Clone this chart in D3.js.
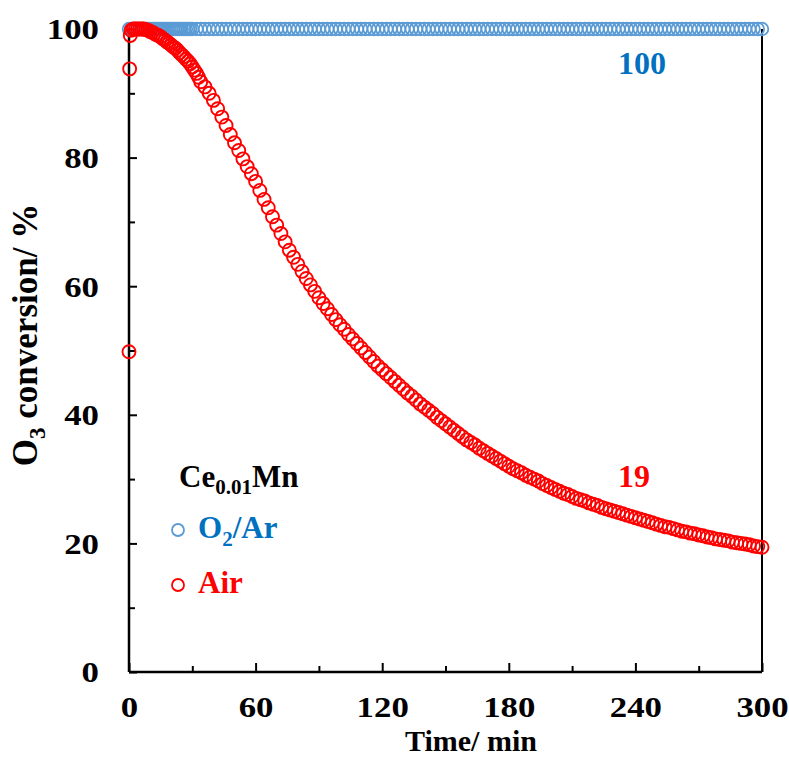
<!DOCTYPE html>
<html><head><meta charset="utf-8">
<script src="https://cdn.jsdelivr.net/npm/d3@7"></script>
<style>body{margin:0;background:#fff}svg{display:block}</style>
</head><body><svg id="c" width="789" height="758"></svg>
<script>
// O2/Ar series (time in min, conversion %)
const blueTime = [0,1,2,3,4,5,6,7,8,9,10,11,12,13,14,15,16,17,18,19,20,21,22,23,24,25,26,27,28,29,30,
32,34,36,38,40,42,44,46,48,50,52,54,56,58,60,62,64,66,68,70,72,74,76,78,80,82,84,86,88,90,92,94,96,98,
100,102,104,106,108,110,112,114,116,118,120,122,124,126,128,130,132,134,136,138,140,142,144,146,148,
150,152,154,156,158,160,162,164,166,168,170,172,174,176,178,180,182,184,186,188,190,192,194,196,198,
200,202,204,206,208,210,212,214,216,218,220,222,224,226,228,230,232,234,236,238,240,242,244,246,248,
250,252,254,256,258,260,262,264,266,268,270,272,274,276,278,280,282,284,286,288,290,292,294,296,298,300];
const blueConv = [100,100,100,100,100,100,100,100,100,100,100,100,100,100,100,100,100,100,100,100,100,100,100,100,100,100,100,100,100,100,100,
100,100,100,100,100,100,100,100,100,100,100,100,100,100,100,100,100,100,100,100,100,100,100,100,100,100,100,100,100,100,100,100,100,100,
100,100,100,100,100,100,100,100,100,100,100,100,100,100,100,100,100,100,100,100,100,100,100,100,100,
100,100,100,100,100,100,100,100,100,100,100,100,100,100,100,100,100,100,100,100,100,100,100,100,100,
100,100,100,100,100,100,100,100,100,100,100,100,100,100,100,100,100,100,100,100,100,100,100,100,100,
100,100,100,100,100,100,100,100,100,100,100,100,100,100,100,100,100,100,100,100,100,100,100,100,100,100];

// Air series
const redTime = [0,0.3,0.6,1,2,3,4,5,6,7,8,9,10,11,12,13,14,15,16,17,18,19,20,21,22,23,24,25,26,27,28,29,30,31,32,33,34,
36,38,40,42,44,46,48,50,52,54,56,58,60,62,64,66,68,70,72,74,76,78,80,82,84,86,88,90,92,94,96,98,
100,102,104,106,108,110,112,114,116,118,120,122,124,126,128,130,132,134,136,138,140,142,144,146,148,
150,152,154,156,158,160,162,164,166,168,170,172,174,176,178,180,182,184,186,188,190,192,194,196,198,
200,202,204,206,208,210,212,214,216,218,220,222,224,226,228,230,232,234,236,238,240,242,244,246,248,
250,252,254,256,258,260,262,264,266,268,270,272,274,276,278,280,282,284,286,288,290,292,294,296,298,300];
const redConv = [49.8,93.8,99.0,99.8,100,100,100,100,100,100,99.9,99.8,99.6,99.5,99.3,99.1,99.0,98.8,98.5,98.3,98.0,97.8,97.5,97.2,97.0,96.7,96.3,96.0,95.7,95.3,95.0,94.6,94.1,93.6,93.1,92.5,91.8,
91.0,90.0,88.9,87.6,86.3,85.0,83.6,82.3,81.1,79.8,78.6,77.5,76.3,74.9,73.5,72.2,70.8,69.5,68.2,66.9,65.6,64.5,63.4,62.3,61.2,60.2,59.2,58.2,57.3,56.5,55.6,54.8,
54.0,53.3,52.5,51.8,51.1,50.4,49.7,49.0,48.3,47.6,47.0,46.4,45.8,45.2,44.6,44.0,43.4,42.9,42.3,41.7,41.2,40.7,40.2,39.6,39.1,
38.6,38.1,37.6,37.1,36.6,36.1,35.7,35.3,34.8,34.4,34.0,33.6,33.2,32.8,32.4,32.0,31.6,31.3,31.0,30.6,30.3,30.0,29.7,29.3,29.0,
28.7,28.4,28.1,27.8,27.6,27.3,27.0,26.8,26.6,26.3,26.1,25.9,25.6,25.4,25.2,25.0,24.8,24.6,24.4,24.2,24.0,23.8,23.6,23.4,23.2,
23.0,22.8,22.6,22.5,22.3,22.1,21.9,21.8,21.6,21.5,21.3,21.2,21.0,20.9,20.7,20.6,20.5,20.4,20.2,20.1,20.0,19.9,19.8,19.6,19.5,19.4];

const xMajor = [0,60,120,180,240,300];
const xMinor = [30,90,150,210,270];
const yMajor = [0,20,40,60,80,100];
const yMinor = [10,30,50,70,90];

const L=129,R=762,T=29,B=672;
const svg = d3.select("#c");
const x = d3.scaleLinear().domain([0,300]).range([L,R]);
const y = d3.scaleLinear().domain([0,100]).range([B,T]);
const font = "'Liberation Serif','Times New Roman',serif";
const SX = 1.2;

// frame (left, bottom, right)
const g = svg.append("g");
g.append("line").attr("x1",L).attr("x2",L).attr("y1",T).attr("y2",B).attr("stroke","#000").attr("stroke-width",2.5);
g.append("line").attr("x1",L).attr("x2",R).attr("y1",B).attr("y2",B).attr("stroke","#000").attr("stroke-width",2.5);
g.append("line").attr("x1",R).attr("x2",R).attr("y1",T).attr("y2",B).attr("stroke","#000").attr("stroke-width",2);

// axes
const xAx = svg.append("g").attr("transform",`translate(0,${B})`)
  .call(d3.axisBottom(x).tickValues(xMajor).tickSizeInner(-9).tickSizeOuter(0).tickPadding(45).tickFormat(d3.format("d")));
const xAxMin = svg.append("g").attr("transform",`translate(0,${B})`)
  .call(d3.axisBottom(x).tickValues(xMinor).tickSizeInner(-6).tickSizeOuter(0).tickFormat(""));
const yAx = svg.append("g").attr("transform",`translate(${L},0)`)
  .call(d3.axisLeft(y).tickValues(yMajor).tickSizeInner(-8).tickSizeOuter(0).tickPadding(30).tickFormat(d3.format("d")));
const yAxMin = svg.append("g").attr("transform",`translate(${L},0)`)
  .call(d3.axisLeft(y).tickValues(yMinor).tickSizeInner(-6).tickSizeOuter(0).tickFormat(""));
[xAx,xAxMin,yAx,yAxMin].forEach(a=>{
  a.select(".domain").remove();
  a.selectAll(".tick line").attr("stroke","#000").attr("stroke-width",2);
  a.selectAll("text").attr("font-family",font).attr("font-weight","bold").attr("font-size",29).attr("fill","#000");
});
xAx.selectAll("text").attr("dy","0").attr("transform",`scale(${SX},1)`);
yAx.selectAll("text").attr("dy","0.34em").attr("x",-30/SX).attr("transform",`scale(${SX},1)`);

// series
svg.append("g").selectAll("circle").data(blueTime.map((t,i)=>[t,blueConv[i]])).join("circle")
  .attr("cx",d=>x(d[0])).attr("cy",d=>y(d[1])).attr("r",6.3)
  .attr("fill","none").attr("stroke","#5B9BD5").attr("stroke-width",1.8);
svg.append("g").selectAll("circle").data(redTime.map((t,i)=>[t,redConv[i]])).join("circle")
  .attr("cx",d=>x(d[0])).attr("cy",d=>y(d[1])).attr("r",6.5)
  .attr("fill","none").attr("stroke","#FF0000").attr("stroke-width",1.9);

// axis titles
svg.append("text").attr("x",471).attr("y",751).attr("text-anchor","middle")
  .attr("font-family",font).attr("font-weight","bold").attr("font-size",30).text("Time/ min");
const yt = svg.append("text").attr("transform","translate(37,335) rotate(-90)").attr("text-anchor","middle")
  .attr("font-family",font).attr("font-weight","bold").attr("font-size",35);
yt.append("tspan").text("O");
yt.append("tspan").attr("font-size",23).attr("dy",8).text("3");
yt.append("tspan").attr("dy",-8).text(" conversion/ %");

// end labels
svg.append("text").attr("x",642).attr("y",74).attr("text-anchor","middle")
  .attr("font-family",font).attr("font-weight","bold").attr("font-size",32).attr("fill","#0070C0").text("100");
svg.append("text").attr("x",634).attr("y",487).attr("text-anchor","middle")
  .attr("font-family",font).attr("font-weight","bold").attr("font-size",32).attr("fill","#FF0000").text("19");

// legend
const lt = svg.append("text").attr("x",179).attr("y",487)
  .attr("font-family",font).attr("font-weight","bold").attr("font-size",31).attr("fill","#000");
lt.append("tspan").text("Ce");
lt.append("tspan").attr("font-size",21).attr("dy",7).text("0.01");
lt.append("tspan").attr("dy",-7).text("Mn");

svg.append("circle").attr("cx",178).attr("cy",530).attr("r",6).attr("fill","none").attr("stroke","#5B9BD5").attr("stroke-width",1.8);
const l1 = svg.append("text").attr("x",198).attr("y",538)
  .attr("font-family",font).attr("font-weight","bold").attr("font-size",31).attr("fill","#0070C0");
l1.append("tspan").text("O");
l1.append("tspan").attr("font-size",21).attr("dy",8).text("2");
l1.append("tspan").attr("dy",-8).text("/Ar");

svg.append("circle").attr("cx",178).attr("cy",585).attr("r",6).attr("fill","none").attr("stroke","#FF0000").attr("stroke-width",1.8);
svg.append("text").attr("x",198).attr("y",593)
  .attr("font-family",font).attr("font-weight","bold").attr("font-size",31).attr("fill","#FF0000").text("Air");
</script></body></html>
